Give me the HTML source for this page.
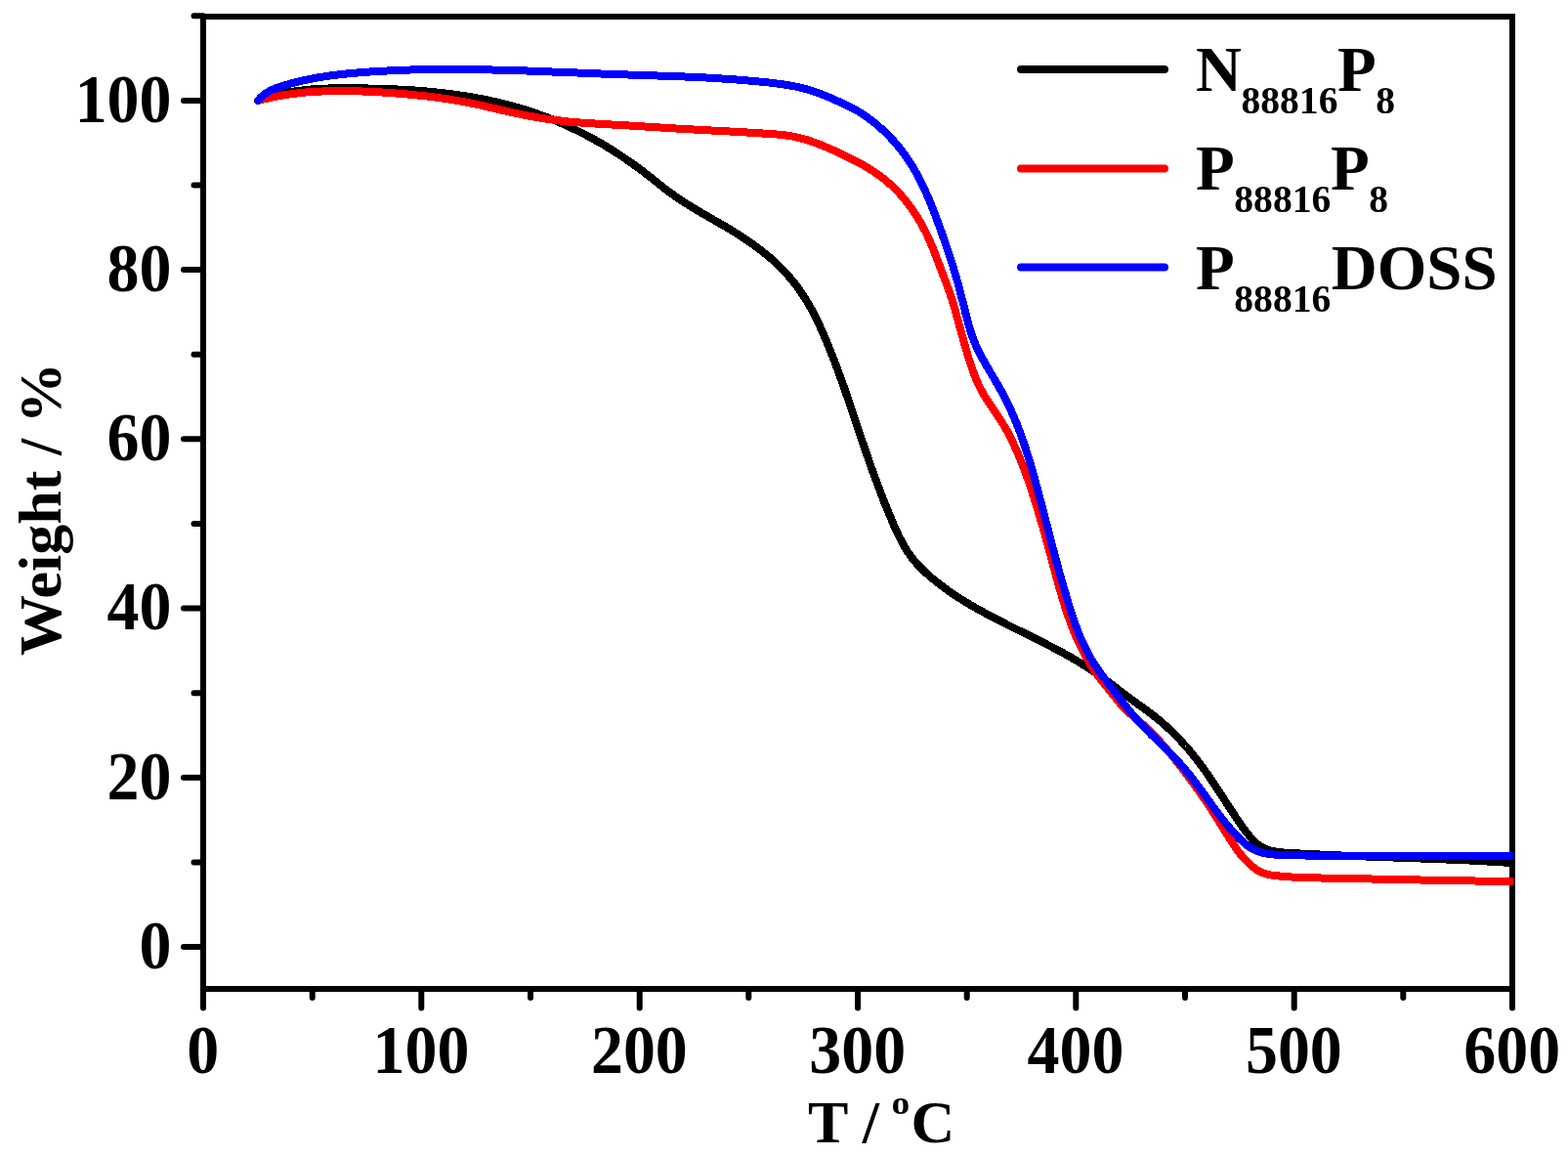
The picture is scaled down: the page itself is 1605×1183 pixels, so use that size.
<!DOCTYPE html><html><head><meta charset="utf-8"><style>html,body{margin:0;padding:0;background:#fff;overflow:hidden}svg{display:block}</style></head><body><svg width="1605" height="1183" viewBox="0 0 1605 1183"><defs><clipPath id="c"><rect x="205" y="14" width="1344" height="1001"/></clipPath></defs><rect x="0" y="0" width="1605" height="1183" fill="#fff"/>
<path d="M208.0,1012.0 V1031.5 M319.7,1012.0 V1021.0 M431.3,1012.0 V1031.5 M543.0,1012.0 V1021.0 M654.7,1012.0 V1031.5 M766.3,1012.0 V1021.0 M878.0,1012.0 V1031.5 M989.7,1012.0 V1021.0 M1101.3,1012.0 V1031.5 M1213.0,1012.0 V1021.0 M1324.7,1012.0 V1031.5 M1436.3,1012.0 V1021.0 M1548.0,1012.0 V1031.5 M208.0,969.0 H188.0 M208.0,882.4 H198.5 M208.0,795.8 H188.0 M208.0,709.2 H198.5 M208.0,622.6 H188.0 M208.0,536.0 H198.5 M208.0,449.3 H188.0 M208.0,362.7 H198.5 M208.0,276.1 H188.0 M208.0,189.5 H198.5 M208.0,102.9 H188.0 M208.0,16.3 H198.5" stroke="#000" stroke-width="6" stroke-linecap="round" fill="none"/>
<rect x="208" y="17" width="1340" height="995" fill="none" stroke="#000" stroke-width="6"/>
<path d="M264.0,103.0L265.9,102.3 267.8,101.6 269.7,101.0 271.6,100.4 273.6,99.8 275.5,99.2 277.4,98.7 279.3,98.1 281.3,97.6 283.2,97.1 285.1,96.7 287.1,96.2 289.0,95.8 291.0,95.4 292.9,95.0 294.9,94.6 296.8,94.3 298.8,94.0 300.7,93.6 302.7,93.4 304.7,93.1 306.6,92.8 308.6,92.6 310.6,92.3 312.5,92.1 314.5,91.9 316.5,91.7 318.5,91.5 320.4,91.4 322.4,91.2 324.4,91.1 326.4,91.0 328.4,90.8 330.4,90.7 332.4,90.7 334.3,90.6 336.3,90.5 338.3,90.4 340.3,90.4 342.3,90.3 344.3,90.3 346.3,90.3 348.3,90.2 350.3,90.2 352.3,90.2 354.3,90.2 356.3,90.2 358.3,90.2 360.3,90.2 362.3,90.3 364.3,90.3 366.3,90.3 368.3,90.3 370.3,90.3 372.3,90.4 374.4,90.4 376.4,90.5 378.4,90.5 380.4,90.5 382.4,90.6 384.4,90.6 386.4,90.7 388.4,90.8 390.4,90.8 392.4,90.9 394.4,91.0 396.4,91.0 398.4,91.1 400.4,91.2 402.4,91.3 404.4,91.4 406.4,91.5 408.5,91.6 410.5,91.7 412.5,91.8 414.5,91.9 416.5,92.0 418.5,92.1 420.5,92.3 422.5,92.4 424.5,92.5 426.5,92.7 428.5,92.8 430.5,93.0 432.5,93.2 434.5,93.3 436.5,93.5 438.5,93.7 440.5,93.9 442.4,94.1 444.4,94.3 446.4,94.5 448.4,94.7 450.4,94.9 452.4,95.1 454.4,95.3 456.4,95.6 458.4,95.8 460.3,96.1 462.3,96.3 464.3,96.6 466.3,96.9 468.3,97.1 470.2,97.4 472.2,97.7 474.2,98.0 476.1,98.3 478.1,98.6 480.1,98.9 482.1,99.3 484.0,99.6 486.0,100.0 487.9,100.3 489.9,100.7 491.9,101.0 493.8,101.4 495.8,101.8 497.7,102.2 499.7,102.6 501.6,103.0 503.6,103.4 505.5,103.9 507.4,104.3 509.4,104.7 511.3,105.2 513.3,105.7 515.2,106.1 517.1,106.6 519.0,107.1 521.0,107.6 522.9,108.1 524.8,108.6 526.7,109.2 528.6,109.7 530.6,110.3 532.5,110.8 534.4,111.4 536.3,112.0 538.2,112.6 540.1,113.2 542.0,113.8 543.9,114.4 545.8,115.0 547.7,115.7 549.5,116.3 551.4,117.0 553.3,117.7 555.2,118.3 557.0,119.0 558.9,119.7 560.8,120.5 562.6,121.2 564.5,121.9 566.4,122.7 568.2,123.4 570.1,124.2 571.9,125.0 573.7,125.8 575.6,126.6 577.4,127.4 579.2,128.2 581.1,129.0 582.9,129.9 584.7,130.7 586.5,131.6 588.3,132.4 590.1,133.3 591.9,134.2 593.7,135.1 595.5,136.0 597.3,136.9 599.1,137.8 600.9,138.8 602.6,139.7 604.4,140.7 606.1,141.6 607.9,142.6 609.6,143.6 611.4,144.5 613.1,145.5 614.9,146.5 616.6,147.5 618.3,148.5 620.0,149.6 621.7,150.6 623.4,151.6 625.1,152.7 626.8,153.7 628.5,154.8 630.2,155.9 631.9,156.9 633.5,158.0 635.2,159.1 636.8,160.2 638.5,161.3 640.1,162.4 641.8,163.6 643.4,164.7 645.0,165.8 646.7,167.0 648.3,168.1 649.9,169.3 651.5,170.5 653.1,171.7 654.7,172.8 656.3,174.0 657.9,175.3 659.5,176.5 661.1,177.7 662.6,178.9 664.2,180.2 665.8,181.4 667.3,182.6 668.9,183.9 670.5,185.1 672.1,186.4 673.6,187.6 675.2,188.9 676.8,190.1 678.4,191.4 679.9,192.6 681.5,193.8 683.1,195.0 684.7,196.2 686.3,197.4 688.0,198.6 689.6,199.7 691.2,200.9 692.8,202.0 694.5,203.2 696.2,204.3 697.8,205.4 699.5,206.5 701.2,207.5 702.9,208.6 704.5,209.7 706.2,210.7 707.9,211.8 709.6,212.8 711.3,213.8 713.1,214.8 714.8,215.9 716.5,216.9 718.2,217.9 719.9,218.9 721.7,219.9 723.4,220.9 725.1,221.9 726.9,222.9 728.6,223.9 730.3,224.9 732.1,225.9 733.8,226.9 735.5,227.9 737.2,228.9 739.0,229.9 740.7,230.9 742.4,231.9 744.1,232.9 745.9,233.9 747.6,235.0 749.3,236.0 751.0,237.0 752.7,238.1 754.4,239.1 756.1,240.2 757.8,241.3 759.5,242.4 761.1,243.5 762.8,244.6 764.5,245.7 766.1,246.8 767.8,248.0 769.4,249.1 771.0,250.3 772.7,251.5 774.3,252.7 775.9,253.9 777.5,255.1 779.1,256.3 780.6,257.5 782.2,258.8 783.8,260.1 785.3,261.3 786.8,262.6 788.4,263.9 789.9,265.2 791.3,266.6 792.8,267.9 794.3,269.3 795.7,270.6 797.2,272.0 798.6,273.4 800.0,274.8 801.4,276.3 802.8,277.7 804.1,279.1 805.5,280.6 806.8,282.1 808.1,283.6 809.4,285.1 810.7,286.6 811.9,288.2 813.2,289.7 814.4,291.3 815.6,292.9 816.8,294.5 817.9,296.1 819.1,297.7 820.2,299.3 821.3,301.0 822.4,302.7 823.4,304.3 824.5,306.0 825.5,307.7 826.6,309.5 827.6,311.2 828.5,312.9 829.5,314.7 830.5,316.4 831.4,318.2 832.4,320.0 833.3,321.7 834.2,323.5 835.1,325.3 836.0,327.1 836.8,328.9 837.7,330.7 838.6,332.5 839.4,334.4 840.2,336.2 841.1,338.0 841.9,339.9 842.7,341.7 843.5,343.5 844.3,345.4 845.1,347.2 845.9,349.1 846.6,350.9 847.4,352.7 848.2,354.6 848.9,356.5 849.7,358.3 850.4,360.2 851.2,362.0 851.9,363.9 852.6,365.7 853.4,367.6 854.1,369.5 854.8,371.3 855.5,373.2 856.2,375.1 856.9,376.9 857.6,378.8 858.3,380.7 859.0,382.6 859.7,384.4 860.3,386.3 861.0,388.2 861.7,390.1 862.4,392.0 863.0,393.8 863.7,395.7 864.3,397.6 865.0,399.5 865.7,401.4 866.3,403.3 867.0,405.1 867.6,407.0 868.2,408.9 868.9,410.8 869.5,412.7 870.2,414.6 870.8,416.5 871.5,418.4 872.1,420.2 872.7,422.1 873.4,424.0 874.0,425.9 874.6,427.8 875.3,429.7 875.9,431.6 876.5,433.5 877.2,435.4 877.8,437.3 878.4,439.1 879.1,441.0 879.7,442.9 880.3,444.8 881.0,446.7 881.6,448.6 882.2,450.5 882.9,452.4 883.5,454.2 884.2,456.1 884.8,458.0 885.5,459.9 886.1,461.8 886.8,463.7 887.4,465.6 888.1,467.4 888.7,469.3 889.4,471.2 890.0,473.1 890.7,475.0 891.4,476.8 892.0,478.7 892.7,480.6 893.4,482.5 894.1,484.3 894.7,486.2 895.4,488.1 896.1,490.0 896.8,491.8 897.5,493.7 898.2,495.6 898.9,497.4 899.6,499.3 900.3,501.2 901.0,503.0 901.7,504.9 902.4,506.8 903.2,508.6 903.9,510.5 904.6,512.4 905.3,514.2 906.1,516.1 906.8,517.9 907.6,519.8 908.3,521.7 909.1,523.5 909.8,525.4 910.6,527.2 911.4,529.1 912.2,530.9 912.9,532.8 913.7,534.6 914.5,536.5 915.3,538.3 916.1,540.2 917.0,542.0 917.8,543.8 918.6,545.6 919.5,547.4 920.4,549.3 921.3,551.0 922.2,552.8 923.1,554.6 924.1,556.3 925.0,558.1 926.0,559.8 927.1,561.5 928.1,563.2 929.2,564.9 930.3,566.5 931.5,568.1 932.6,569.7 933.8,571.3 935.1,572.8 936.3,574.4 937.6,575.9 939.0,577.4 940.3,578.8 941.7,580.3 943.1,581.7 944.5,583.1 945.9,584.5 947.4,585.9 948.9,587.2 950.4,588.6 951.9,589.9 953.4,591.2 954.9,592.5 956.5,593.7 958.0,595.0 959.6,596.2 961.2,597.5 962.8,598.7 964.4,599.9 966.0,601.1 967.6,602.3 969.2,603.4 970.8,604.6 972.5,605.7 974.1,606.8 975.8,608.0 977.4,609.1 979.1,610.2 980.8,611.3 982.5,612.3 984.1,613.4 985.8,614.5 987.5,615.5 989.2,616.5 990.9,617.6 992.6,618.6 994.4,619.6 996.1,620.6 997.8,621.6 999.5,622.6 1001.3,623.6 1003.0,624.5 1004.8,625.5 1006.5,626.5 1008.3,627.4 1010.0,628.4 1011.8,629.3 1013.6,630.3 1015.3,631.2 1017.1,632.1 1018.9,633.1 1020.6,634.0 1022.4,634.9 1024.2,635.8 1026.0,636.7 1027.8,637.6 1029.6,638.5 1031.3,639.4 1033.1,640.3 1034.9,641.2 1036.7,642.1 1038.5,643.0 1040.3,643.9 1042.1,644.8 1043.9,645.7 1045.7,646.5 1047.5,647.4 1049.3,648.3 1051.1,649.2 1052.9,650.1 1054.7,651.0 1056.5,651.9 1058.2,652.8 1060.0,653.7 1061.8,654.6 1063.6,655.5 1065.4,656.4 1067.2,657.3 1069.0,658.2 1070.8,659.1 1072.5,660.0 1074.3,660.9 1076.1,661.8 1077.9,662.7 1079.6,663.7 1081.4,664.6 1083.1,665.5 1084.9,666.5 1086.7,667.4 1088.4,668.4 1090.2,669.4 1091.9,670.3 1093.6,671.3 1095.4,672.3 1097.1,673.3 1098.8,674.3 1100.5,675.3 1102.3,676.3 1104.0,677.3 1105.7,678.3 1107.4,679.4 1109.1,680.4 1110.7,681.5 1112.4,682.5 1114.1,683.6 1115.8,684.7 1117.4,685.8 1119.1,686.9 1120.7,688.0 1122.4,689.2 1124.0,690.3 1125.6,691.5 1127.2,692.6 1128.9,693.8 1130.5,695.0 1132.1,696.1 1133.7,697.3 1135.3,698.5 1136.9,699.7 1138.5,700.9 1140.1,702.1 1141.7,703.3 1143.2,704.6 1144.8,705.8 1146.4,707.0 1148.0,708.2 1149.6,709.4 1151.2,710.6 1152.8,711.8 1154.4,713.0 1156.0,714.2 1157.6,715.4 1159.3,716.5 1160.9,717.7 1162.5,718.9 1164.1,720.1 1165.7,721.2 1167.3,722.4 1169.0,723.6 1170.6,724.8 1172.2,725.9 1173.8,727.1 1175.4,728.3 1177.0,729.5 1178.6,730.7 1180.2,731.9 1181.7,733.2 1183.3,734.4 1184.9,735.7 1186.4,736.9 1187.9,738.2 1189.5,739.5 1191.0,740.8 1192.5,742.1 1193.9,743.5 1195.4,744.8 1196.9,746.2 1198.3,747.6 1199.8,748.9 1201.2,750.3 1202.6,751.8 1204.0,753.2 1205.4,754.6 1206.8,756.1 1208.2,757.5 1209.5,759.0 1210.9,760.5 1212.2,762.0 1213.5,763.5 1214.9,765.0 1216.2,766.5 1217.5,768.0 1218.7,769.5 1220.0,771.1 1221.3,772.6 1222.5,774.2 1223.8,775.8 1225.0,777.3 1226.2,778.9 1227.5,780.5 1228.7,782.1 1229.8,783.7 1231.0,785.3 1232.2,786.9 1233.4,788.6 1234.5,790.2 1235.7,791.8 1236.8,793.5 1237.9,795.1 1239.1,796.7 1240.2,798.4 1241.3,800.0 1242.4,801.7 1243.5,803.4 1244.6,805.0 1245.7,806.7 1246.8,808.4 1247.9,810.0 1249.0,811.7 1250.0,813.4 1251.1,815.0 1252.2,816.7 1253.3,818.4 1254.4,820.1 1255.4,821.7 1256.5,823.4 1257.6,825.1 1258.7,826.8 1259.8,828.4 1260.8,830.1 1261.9,831.8 1263.0,833.4 1264.1,835.1 1265.2,836.8 1266.4,838.4 1267.5,840.1 1268.6,841.7 1269.7,843.4 1270.9,845.0 1272.1,846.7 1273.3,848.3 1274.5,849.9 1275.7,851.5 1277.0,853.1 1278.3,854.7 1279.6,856.3 1281.0,857.8 1282.4,859.3 1283.8,860.8 1285.3,862.2 1286.8,863.5 1288.4,864.8 1290.0,865.9 1291.6,866.9 1293.3,867.8 1295.1,868.6 1296.9,869.3 1298.7,869.9 1300.6,870.4 1302.4,870.9 1304.4,871.3 1306.3,871.6 1308.3,871.9 1310.2,872.2 1312.2,872.4 1314.2,872.6 1316.2,872.7 1318.3,872.8 1320.3,873.0 1322.3,873.1 1324.3,873.2 1326.4,873.3 1328.4,873.4 1330.4,873.5 1332.4,873.6 1334.4,873.7 1336.4,873.8 1338.4,873.9 1340.5,874.0 1342.5,874.1 1344.5,874.2 1346.5,874.3 1348.5,874.4 1350.5,874.5 1352.5,874.6 1354.5,874.7 1356.5,874.8 1358.5,874.8 1360.5,874.9 1362.5,875.0 1364.5,875.1 1366.4,875.2 1368.4,875.3 1370.4,875.4 1372.4,875.5 1374.4,875.5 1376.4,875.6 1378.4,875.7 1380.4,875.8 1382.4,875.9 1384.4,875.9 1386.4,876.0 1388.3,876.1 1390.3,876.2 1392.3,876.3 1394.3,876.3 1396.3,876.4 1398.3,876.5 1400.3,876.6 1402.3,876.6 1404.3,876.7 1406.2,876.8 1408.2,876.9 1410.2,876.9 1412.2,877.0 1414.2,877.1 1416.2,877.1 1418.2,877.2 1420.2,877.3 1422.2,877.4 1424.2,877.4 1426.2,877.5 1428.2,877.6 1430.2,877.6 1432.2,877.7 1434.2,877.8 1436.2,877.8 1438.2,877.9 1440.1,878.0 1442.1,878.0 1444.1,878.1 1446.1,878.2 1448.1,878.3 1450.1,878.3 1452.1,878.4 1454.1,878.5 1456.1,878.5 1458.1,878.6 1460.1,878.7 1462.1,878.8 1464.1,878.8 1466.1,878.9 1468.1,879.0 1470.1,879.1 1472.1,879.1 1474.1,879.2 1476.2,879.3 1478.2,879.4 1480.2,879.5 1482.2,879.5 1484.2,879.6 1486.2,879.7 1488.2,879.8 1490.2,879.9 1492.2,880.0 1494.2,880.1 1496.2,880.1 1498.2,880.2 1500.2,880.3 1502.2,880.4 1504.2,880.5 1506.2,880.6 1508.2,880.7 1510.1,880.8 1512.1,880.9 1514.1,881.0 1516.1,881.1 1518.1,881.2 1520.1,881.4 1522.1,881.5 1524.1,881.6 1526.1,881.7 1528.1,881.8 1530.1,881.9 1532.1,882.1 1534.1,882.2 1536.1,882.3 1538.1,882.4 1540.1,882.6 1542.1,882.7 1544.0,882.8 1546.0,883.0 1548.0,883.1 1550.0,883.3 1552.0,883.4" fill="none" stroke="#000" stroke-width="8" stroke-linejoin="round" stroke-linecap="round" shape-rendering="crispEdges" clip-path="url(#c)"/>
<path d="M264.0,103.0L265.9,102.5 267.9,102.0 269.8,101.5 271.8,101.0 273.8,100.6 275.7,100.2 277.7,99.7 279.6,99.3 281.6,98.9 283.5,98.6 285.5,98.2 287.5,97.9 289.4,97.5 291.4,97.2 293.4,96.9 295.4,96.6 297.3,96.3 299.3,96.0 301.3,95.8 303.3,95.6 305.2,95.3 307.2,95.1 309.2,94.9 311.2,94.7 313.2,94.5 315.1,94.3 317.1,94.2 319.1,94.0 321.1,93.9 323.1,93.8 325.1,93.7 327.1,93.5 329.1,93.5 331.1,93.4 333.0,93.3 335.0,93.2 337.0,93.2 339.0,93.1 341.0,93.1 343.0,93.0 345.0,93.0 347.0,93.0 349.0,93.0 351.0,93.0 353.0,93.0 355.0,93.0 357.0,93.1 359.0,93.1 361.0,93.1 363.0,93.2 365.0,93.3 367.0,93.3 369.0,93.4 371.0,93.5 373.0,93.5 375.0,93.6 377.0,93.7 379.0,93.8 381.0,93.9 383.0,94.0 385.0,94.1 387.0,94.3 389.0,94.4 391.0,94.5 393.0,94.7 395.0,94.8 397.0,94.9 399.0,95.1 401.0,95.2 403.0,95.4 405.0,95.5 407.0,95.7 409.0,95.8 411.0,96.0 413.0,96.2 415.0,96.4 416.9,96.5 418.9,96.7 420.9,96.9 422.9,97.1 424.9,97.3 426.9,97.5 428.9,97.7 430.9,97.9 432.9,98.1 434.8,98.3 436.8,98.5 438.8,98.8 440.8,99.0 442.8,99.3 444.8,99.5 446.7,99.8 448.7,100.0 450.7,100.3 452.7,100.6 454.6,100.8 456.6,101.1 458.6,101.4 460.6,101.7 462.5,102.1 464.5,102.4 466.5,102.7 468.4,103.0 470.4,103.4 472.4,103.7 474.3,104.1 476.3,104.5 478.2,104.9 480.2,105.2 482.1,105.6 484.1,106.1 486.1,106.5 488.0,106.9 490.0,107.3 491.9,107.7 493.9,108.2 495.8,108.6 497.8,109.1 499.7,109.5 501.7,110.0 503.6,110.4 505.6,110.9 507.5,111.3 509.4,111.8 511.4,112.2 513.3,112.7 515.3,113.1 517.2,113.5 519.2,114.0 521.1,114.4 523.1,114.9 525.1,115.3 527.0,115.7 529.0,116.1 530.9,116.5 532.9,116.9 534.8,117.3 536.8,117.7 538.8,118.1 540.7,118.5 542.7,118.8 544.6,119.2 546.6,119.6 548.6,119.9 550.6,120.2 552.5,120.6 554.5,120.9 556.5,121.2 558.4,121.5 560.4,121.8 562.4,122.1 564.4,122.4 566.3,122.6 568.3,122.9 570.3,123.2 572.3,123.4 574.3,123.6 576.2,123.9 578.2,124.1 580.2,124.3 582.2,124.5 584.2,124.7 586.2,124.9 588.2,125.0 590.1,125.2 592.1,125.4 594.1,125.5 596.1,125.7 598.1,125.8 600.1,125.9 602.1,126.1 604.1,126.2 606.1,126.3 608.1,126.4 610.1,126.6 612.1,126.7 614.1,126.8 616.1,126.9 618.1,127.0 620.1,127.1 622.1,127.2 624.1,127.3 626.1,127.5 628.1,127.6 630.0,127.7 632.0,127.8 634.0,127.9 636.0,128.0 638.0,128.2 640.0,128.3 642.0,128.4 644.0,128.5 646.0,128.6 648.0,128.8 650.0,128.9 652.0,129.0 654.0,129.1 656.0,129.3 658.0,129.4 660.0,129.5 662.0,129.6 664.0,129.8 666.0,129.9 668.0,130.0 670.0,130.1 672.0,130.3 674.0,130.4 675.9,130.5 677.9,130.6 679.9,130.8 681.9,130.9 683.9,131.0 685.9,131.1 687.9,131.3 689.9,131.4 691.9,131.5 693.9,131.6 695.9,131.7 697.9,131.8 699.9,132.0 701.9,132.1 703.8,132.2 705.8,132.3 707.8,132.4 709.8,132.5 711.8,132.6 713.8,132.7 715.8,132.9 717.8,133.0 719.8,133.1 721.8,133.2 723.7,133.3 725.7,133.4 727.7,133.5 729.7,133.6 731.7,133.7 733.7,133.8 735.7,133.9 737.7,134.0 739.7,134.1 741.7,134.2 743.7,134.3 745.7,134.4 747.6,134.6 749.6,134.7 751.6,134.8 753.6,134.9 755.6,135.0 757.6,135.1 759.6,135.2 761.6,135.3 763.6,135.4 765.6,135.6 767.6,135.7 769.6,135.8 771.6,135.9 773.6,136.0 775.6,136.2 777.6,136.3 779.6,136.4 781.6,136.6 783.6,136.7 785.6,136.8 787.6,137.0 789.7,137.1 791.7,137.2 793.7,137.4 795.7,137.6 797.7,137.8 799.7,138.0 801.7,138.2 803.6,138.4 805.6,138.7 807.6,139.0 809.6,139.3 811.5,139.6 813.5,140.0 815.4,140.4 817.3,140.9 819.3,141.4 821.2,141.9 823.1,142.4 825.0,142.9 826.9,143.5 828.8,144.1 830.6,144.7 832.5,145.4 834.4,146.1 836.2,146.7 838.1,147.5 840.0,148.2 841.8,148.9 843.7,149.7 845.5,150.4 847.3,151.2 849.2,152.0 851.0,152.8 852.8,153.7 854.7,154.5 856.5,155.3 858.3,156.2 860.1,157.0 861.9,157.9 863.8,158.8 865.6,159.6 867.4,160.5 869.2,161.4 871.0,162.3 872.8,163.2 874.6,164.1 876.4,165.1 878.1,166.0 879.9,167.0 881.7,167.9 883.4,168.9 885.2,169.9 886.9,170.9 888.6,171.9 890.3,173.0 892.0,174.1 893.7,175.1 895.3,176.2 897.0,177.4 898.6,178.5 900.2,179.7 901.8,180.9 903.4,182.1 905.0,183.3 906.5,184.6 908.0,185.8 909.5,187.1 911.0,188.4 912.5,189.8 913.9,191.1 915.3,192.5 916.7,193.9 918.1,195.3 919.5,196.8 920.9,198.2 922.2,199.7 923.5,201.2 924.8,202.7 926.1,204.2 927.3,205.8 928.6,207.3 929.8,208.9 931.0,210.5 932.2,212.1 933.3,213.7 934.5,215.4 935.6,217.0 936.7,218.7 937.8,220.3 938.9,222.0 939.9,223.7 940.9,225.4 942.0,227.2 942.9,228.9 943.9,230.6 944.9,232.4 945.8,234.2 946.7,235.9 947.6,237.7 948.5,239.5 949.4,241.3 950.2,243.1 951.0,245.0 951.8,246.8 952.6,248.6 953.4,250.4 954.2,252.3 954.9,254.1 955.7,256.0 956.4,257.9 957.1,259.7 957.8,261.6 958.5,263.4 959.3,265.3 960.0,267.2 960.7,269.0 961.4,270.9 962.1,272.8 962.8,274.6 963.5,276.5 964.2,278.4 964.9,280.2 965.6,282.1 966.3,284.0 967.1,285.8 967.8,287.7 968.5,289.6 969.2,291.4 969.8,293.3 970.5,295.2 971.2,297.1 971.9,298.9 972.5,300.8 973.1,302.7 973.8,304.6 974.4,306.5 975.0,308.4 975.6,310.3 976.1,312.2 976.7,314.2 977.3,316.1 977.8,318.0 978.4,319.9 978.9,321.9 979.4,323.8 980.0,325.7 980.5,327.6 981.0,329.6 981.6,331.5 982.1,333.4 982.6,335.3 983.1,337.3 983.7,339.2 984.2,341.1 984.7,343.0 985.3,345.0 985.8,346.9 986.3,348.8 986.9,350.7 987.4,352.6 988.0,354.6 988.6,356.5 989.1,358.4 989.7,360.3 990.3,362.2 990.8,364.1 991.4,366.1 992.0,368.0 992.6,369.9 993.2,371.8 993.9,373.7 994.5,375.6 995.1,377.5 995.8,379.4 996.5,381.2 997.2,383.1 997.9,385.0 998.7,386.8 999.4,388.7 1000.2,390.5 1001.0,392.3 1001.8,394.1 1002.7,395.9 1003.6,397.7 1004.5,399.5 1005.5,401.2 1006.4,402.9 1007.4,404.6 1008.5,406.3 1009.5,408.0 1010.6,409.7 1011.7,411.4 1012.8,413.0 1013.9,414.7 1015.0,416.4 1016.2,418.0 1017.3,419.7 1018.4,421.3 1019.5,423.0 1020.7,424.6 1021.8,426.3 1022.9,427.9 1024.0,429.6 1025.0,431.3 1026.1,433.0 1027.1,434.7 1028.1,436.4 1029.1,438.2 1030.1,439.9 1031.1,441.6 1032.0,443.4 1032.9,445.2 1033.8,446.9 1034.7,448.7 1035.6,450.5 1036.5,452.3 1037.4,454.1 1038.2,455.9 1039.0,457.7 1039.9,459.5 1040.7,461.3 1041.5,463.2 1042.3,465.0 1043.0,466.9 1043.8,468.7 1044.6,470.6 1045.3,472.4 1046.0,474.3 1046.8,476.1 1047.5,478.0 1048.2,479.9 1048.9,481.7 1049.6,483.6 1050.2,485.5 1050.9,487.4 1051.6,489.3 1052.3,491.2 1052.9,493.0 1053.6,494.9 1054.2,496.8 1054.8,498.7 1055.5,500.6 1056.1,502.5 1056.7,504.4 1057.3,506.3 1058.0,508.2 1058.6,510.1 1059.2,512.0 1059.8,513.9 1060.4,515.8 1061.0,517.7 1061.5,519.6 1062.1,521.5 1062.7,523.4 1063.3,525.3 1063.8,527.2 1064.4,529.1 1065.0,531.0 1065.5,533.0 1066.1,534.9 1066.6,536.8 1067.2,538.7 1067.7,540.6 1068.3,542.5 1068.8,544.5 1069.4,546.4 1069.9,548.3 1070.4,550.2 1071.0,552.1 1071.5,554.1 1072.0,556.0 1072.6,557.9 1073.1,559.8 1073.6,561.8 1074.1,563.7 1074.7,565.6 1075.2,567.6 1075.7,569.5 1076.2,571.4 1076.8,573.4 1077.3,575.3 1077.8,577.2 1078.3,579.2 1078.8,581.1 1079.4,583.0 1079.9,585.0 1080.4,586.9 1080.9,588.8 1081.4,590.8 1082.0,592.7 1082.5,594.6 1083.0,596.6 1083.6,598.5 1084.1,600.4 1084.6,602.4 1085.2,604.3 1085.7,606.2 1086.3,608.1 1086.9,610.1 1087.4,612.0 1088.0,613.9 1088.6,615.8 1089.2,617.7 1089.8,619.6 1090.4,621.6 1091.0,623.5 1091.6,625.4 1092.2,627.3 1092.9,629.1 1093.5,631.0 1094.2,632.9 1094.8,634.8 1095.5,636.7 1096.2,638.5 1096.9,640.4 1097.6,642.3 1098.4,644.1 1099.1,646.0 1099.9,647.8 1100.6,649.6 1101.4,651.5 1102.2,653.3 1103.0,655.1 1103.8,656.9 1104.7,658.7 1105.5,660.5 1106.4,662.3 1107.3,664.0 1108.2,665.8 1109.1,667.6 1110.0,669.3 1111.0,671.1 1112.0,672.8 1113.0,674.5 1114.0,676.3 1115.0,678.0 1116.0,679.7 1117.1,681.4 1118.1,683.0 1119.2,684.7 1120.3,686.4 1121.5,688.0 1122.6,689.6 1123.8,691.3 1125.0,692.9 1126.2,694.5 1127.4,696.1 1128.6,697.7 1129.9,699.3 1131.1,700.8 1132.4,702.4 1133.7,704.0 1134.9,705.5 1136.2,707.1 1137.5,708.6 1138.7,710.2 1140.0,711.8 1141.2,713.3 1142.5,714.9 1143.7,716.4 1144.9,718.0 1146.2,719.5 1147.4,721.1 1148.7,722.6 1150.0,724.0 1151.4,725.5 1152.8,726.8 1154.3,728.2 1155.8,729.5 1157.3,730.8 1158.8,732.0 1160.4,733.3 1161.9,734.6 1163.4,735.8 1164.9,737.1 1166.4,738.4 1167.9,739.7 1169.4,741.1 1170.9,742.4 1172.3,743.7 1173.8,745.1 1175.2,746.5 1176.6,747.8 1178.1,749.2 1179.5,750.6 1180.9,752.1 1182.2,753.5 1183.6,754.9 1185.0,756.4 1186.3,757.8 1187.7,759.3 1189.0,760.8 1190.3,762.3 1191.7,763.8 1193.0,765.3 1194.3,766.8 1195.6,768.3 1196.9,769.8 1198.2,771.3 1199.4,772.9 1200.7,774.4 1202.0,776.0 1203.2,777.5 1204.4,779.1 1205.7,780.7 1206.9,782.2 1208.2,783.8 1209.4,785.4 1210.6,787.0 1211.8,788.6 1213.0,790.2 1214.2,791.8 1215.4,793.4 1216.6,795.0 1217.8,796.6 1219.0,798.2 1220.2,799.8 1221.3,801.5 1222.5,803.1 1223.7,804.7 1224.8,806.3 1226.0,808.0 1227.1,809.6 1228.3,811.2 1229.4,812.9 1230.6,814.5 1231.7,816.1 1232.8,817.8 1234.0,819.4 1235.1,821.1 1236.2,822.8 1237.3,824.4 1238.4,826.1 1239.5,827.7 1240.6,829.4 1241.7,831.1 1242.8,832.8 1243.8,834.4 1244.9,836.1 1246.0,837.8 1247.1,839.5 1248.1,841.2 1249.2,842.9 1250.2,844.6 1251.3,846.2 1252.3,847.9 1253.3,849.6 1254.4,851.3 1255.4,853.0 1256.5,854.7 1257.5,856.4 1258.6,858.1 1259.6,859.8 1260.7,861.5 1261.8,863.1 1262.9,864.8 1264.0,866.4 1265.2,868.0 1266.3,869.6 1267.5,871.2 1268.7,872.8 1269.9,874.4 1271.2,875.9 1272.5,877.4 1273.8,878.9 1275.2,880.4 1276.6,881.8 1278.0,883.2 1279.5,884.6 1281.0,886.0 1282.6,887.3 1284.2,888.5 1285.8,889.7 1287.5,890.7 1289.2,891.7 1291.0,892.6 1292.8,893.4 1294.7,894.0 1296.6,894.6 1298.5,895.0 1300.4,895.4 1302.4,895.7 1304.4,895.9 1306.3,896.2 1308.3,896.4 1310.3,896.6 1312.3,896.8 1314.3,896.9 1316.3,897.1 1318.3,897.2 1320.3,897.4 1322.2,897.5 1324.2,897.6 1326.2,897.7 1328.2,897.8 1330.2,897.9 1332.2,898.0 1334.2,898.0 1336.2,898.1 1338.2,898.2 1340.2,898.2 1342.2,898.3 1344.2,898.3 1346.2,898.4 1348.2,898.4 1350.2,898.4 1352.2,898.5 1354.2,898.5 1356.2,898.5 1358.2,898.6 1360.2,898.6 1362.2,898.7 1364.2,898.7 1366.2,898.7 1368.2,898.8 1370.2,898.8 1372.2,898.8 1374.2,898.9 1376.2,898.9 1378.2,899.0 1380.2,899.0 1382.2,899.0 1384.2,899.1 1386.2,899.1 1388.2,899.2 1390.2,899.2 1392.2,899.2 1394.2,899.3 1396.2,899.3 1398.2,899.4 1400.2,899.4 1402.2,899.4 1404.2,899.5 1406.2,899.5 1408.2,899.6 1410.2,899.6 1412.2,899.6 1414.2,899.7 1416.2,899.7 1418.2,899.8 1420.2,899.8 1422.2,899.8 1424.2,899.9 1426.1,899.9 1428.1,900.0 1430.1,900.0 1432.1,900.0 1434.1,900.1 1436.1,900.1 1438.1,900.2 1440.1,900.2 1442.1,900.2 1444.1,900.3 1446.1,900.3 1448.1,900.4 1450.1,900.4 1452.1,900.4 1454.1,900.5 1456.1,900.5 1458.1,900.6 1460.1,900.6 1462.1,900.6 1464.1,900.7 1466.1,900.7 1468.1,900.8 1470.1,900.8 1472.1,900.8 1474.1,900.9 1476.1,900.9 1478.1,900.9 1480.1,901.0 1482.1,901.0 1484.1,901.0 1486.1,901.1 1488.1,901.1 1490.1,901.1 1492.1,901.2 1494.1,901.2 1496.0,901.2 1498.0,901.3 1500.0,901.3 1502.0,901.3 1504.0,901.4 1506.0,901.4 1508.0,901.4 1510.0,901.5 1512.0,901.5 1514.0,901.5 1516.0,901.5 1518.0,901.6 1520.0,901.6 1522.0,901.6 1524.0,901.6 1526.0,901.7 1528.0,901.7 1530.0,901.7 1532.0,901.7 1534.0,901.7 1536.0,901.8 1538.0,901.8 1540.0,901.8 1542.0,901.8 1544.0,901.8 1546.0,901.9 1548.0,901.9 1550.0,901.9 1552.0,901.9" fill="none" stroke="#f00" stroke-width="8" stroke-linejoin="round" stroke-linecap="round" shape-rendering="crispEdges" clip-path="url(#c)"/>
<path d="M264.0,103.0L265.3,101.4 266.7,99.9 268.1,98.6 269.6,97.3 271.2,96.1 272.8,95.0 274.5,94.0 276.2,93.1 278.0,92.2 279.7,91.4 281.6,90.7 283.4,89.9 285.3,89.3 287.2,88.6 289.0,88.0 291.0,87.4 292.9,86.9 294.8,86.3 296.7,85.8 298.6,85.2 300.5,84.7 302.5,84.2 304.4,83.8 306.3,83.3 308.3,82.8 310.2,82.4 312.2,82.0 314.1,81.6 316.1,81.2 318.0,80.8 320.0,80.4 321.9,80.0 323.9,79.7 325.9,79.3 327.9,79.0 329.8,78.7 331.8,78.4 333.8,78.1 335.8,77.8 337.8,77.5 339.7,77.2 341.7,77.0 343.7,76.7 345.7,76.5 347.7,76.3 349.7,76.0 351.7,75.8 353.7,75.6 355.7,75.4 357.7,75.2 359.7,75.0 361.7,74.8 363.7,74.6 365.7,74.5 367.7,74.3 369.7,74.2 371.7,74.0 373.7,73.8 375.7,73.7 377.7,73.6 379.7,73.4 381.7,73.3 383.7,73.2 385.7,73.0 387.7,72.9 389.7,72.8 391.7,72.7 393.7,72.6 395.7,72.5 397.7,72.4 399.7,72.3 401.7,72.2 403.7,72.1 405.7,72.0 407.7,71.9 409.7,71.8 411.7,71.8 413.7,71.7 415.7,71.6 417.7,71.6 419.7,71.5 421.7,71.4 423.7,71.4 425.7,71.3 427.7,71.3 429.7,71.2 431.7,71.2 433.6,71.2 435.6,71.1 437.6,71.1 439.6,71.1 441.6,71.0 443.6,71.0 445.6,71.0 447.6,71.0 449.6,71.0 451.6,70.9 453.6,70.9 455.6,70.9 457.6,70.9 459.6,70.9 461.6,70.9 463.6,70.9 465.6,70.9 467.6,70.9 469.6,70.9 471.6,71.0 473.6,71.0 475.6,71.0 477.6,71.0 479.5,71.0 481.5,71.1 483.5,71.1 485.5,71.1 487.5,71.1 489.5,71.2 491.5,71.2 493.5,71.2 495.5,71.3 497.5,71.3 499.5,71.4 501.5,71.4 503.5,71.5 505.5,71.5 507.5,71.5 509.5,71.6 511.5,71.6 513.5,71.7 515.4,71.8 517.4,71.8 519.4,71.9 521.4,71.9 523.4,72.0 525.4,72.1 527.4,72.1 529.4,72.2 531.4,72.2 533.4,72.3 535.4,72.4 537.4,72.4 539.4,72.5 541.4,72.6 543.4,72.7 545.4,72.7 547.4,72.8 549.4,72.9 551.3,72.9 553.3,73.0 555.3,73.1 557.3,73.2 559.3,73.2 561.3,73.3 563.3,73.4 565.3,73.5 567.3,73.6 569.3,73.6 571.3,73.7 573.3,73.8 575.3,73.9 577.3,74.0 579.3,74.0 581.3,74.1 583.3,74.2 585.3,74.3 587.3,74.4 589.3,74.4 591.3,74.5 593.3,74.6 595.3,74.7 597.3,74.8 599.2,74.8 601.2,74.9 603.2,75.0 605.2,75.1 607.2,75.2 609.2,75.2 611.2,75.3 613.2,75.4 615.2,75.5 617.2,75.5 619.2,75.6 621.2,75.7 623.2,75.8 625.2,75.8 627.2,75.9 629.2,76.0 631.2,76.1 633.2,76.1 635.2,76.2 637.2,76.3 639.2,76.3 641.2,76.4 643.2,76.5 645.2,76.5 647.2,76.6 649.2,76.7 651.2,76.7 653.2,76.8 655.2,76.9 657.2,76.9 659.2,77.0 661.2,77.1 663.2,77.1 665.2,77.2 667.2,77.3 669.2,77.3 671.2,77.4 673.2,77.5 675.2,77.5 677.2,77.6 679.2,77.7 681.2,77.7 683.2,77.8 685.2,77.9 687.2,78.0 689.2,78.0 691.2,78.1 693.2,78.2 695.2,78.3 697.2,78.3 699.2,78.4 701.2,78.5 703.2,78.6 705.2,78.7 707.2,78.8 709.2,78.9 711.2,78.9 713.2,79.0 715.2,79.1 717.2,79.2 719.2,79.3 721.2,79.4 723.2,79.5 725.2,79.6 727.2,79.8 729.2,79.9 731.2,80.0 733.2,80.1 735.2,80.2 737.2,80.3 739.2,80.5 741.2,80.6 743.2,80.7 745.2,80.9 747.1,81.0 749.1,81.1 751.1,81.3 753.1,81.4 755.1,81.6 757.1,81.7 759.1,81.9 761.1,82.1 763.1,82.2 765.1,82.4 767.0,82.6 769.0,82.7 771.0,82.9 773.0,83.1 775.0,83.3 777.0,83.5 779.0,83.7 780.9,83.9 782.9,84.1 784.9,84.3 786.9,84.5 788.9,84.8 790.9,85.0 792.8,85.2 794.8,85.5 796.8,85.7 798.8,86.0 800.7,86.3 802.7,86.5 804.7,86.8 806.6,87.2 808.6,87.5 810.6,87.8 812.5,88.2 814.5,88.6 816.4,89.0 818.3,89.4 820.3,89.9 822.2,90.4 824.1,90.9 826.0,91.4 827.9,92.0 829.9,92.5 831.8,93.2 833.6,93.8 835.5,94.5 837.4,95.2 839.3,95.9 841.2,96.6 843.0,97.3 844.9,98.1 846.8,98.9 848.6,99.6 850.5,100.4 852.3,101.2 854.2,102.0 856.0,102.8 857.9,103.6 859.7,104.4 861.6,105.2 863.4,106.1 865.2,106.9 867.0,107.8 868.8,108.7 870.6,109.6 872.4,110.5 874.1,111.5 875.8,112.5 877.6,113.5 879.3,114.5 881.0,115.6 882.7,116.6 884.3,117.7 886.0,118.9 887.6,120.0 889.2,121.2 890.8,122.3 892.4,123.5 894.0,124.8 895.6,126.0 897.1,127.3 898.6,128.6 900.1,129.9 901.6,131.2 903.1,132.5 904.6,133.9 906.0,135.2 907.4,136.6 908.8,138.0 910.2,139.5 911.6,140.9 913.0,142.4 914.3,143.8 915.6,145.3 916.9,146.8 918.2,148.4 919.5,149.9 920.8,151.4 922.0,153.0 923.2,154.6 924.4,156.2 925.6,157.8 926.8,159.4 927.9,161.0 929.1,162.7 930.2,164.3 931.3,166.0 932.3,167.7 933.4,169.4 934.4,171.1 935.5,172.8 936.5,174.5 937.4,176.2 938.4,178.0 939.4,179.7 940.3,181.5 941.2,183.2 942.1,185.0 943.0,186.8 943.9,188.6 944.8,190.4 945.6,192.2 946.5,194.0 947.3,195.8 948.1,197.7 948.9,199.5 949.7,201.3 950.5,203.2 951.3,205.0 952.1,206.9 952.8,208.7 953.6,210.6 954.3,212.5 955.0,214.3 955.8,216.2 956.5,218.1 957.2,219.9 957.9,221.8 958.6,223.7 959.3,225.6 960.0,227.5 960.7,229.3 961.4,231.2 962.0,233.1 962.7,235.0 963.4,236.9 964.1,238.7 964.7,240.6 965.4,242.5 966.1,244.4 966.7,246.3 967.4,248.2 968.0,250.0 968.7,251.9 969.3,253.8 969.9,255.7 970.6,257.6 971.2,259.5 971.8,261.4 972.5,263.2 973.1,265.1 973.7,267.0 974.3,268.9 974.9,270.8 975.5,272.7 976.1,274.6 976.6,276.5 977.2,278.4 977.8,280.3 978.3,282.3 978.9,284.2 979.4,286.1 980.0,288.0 980.5,289.9 981.1,291.9 981.6,293.8 982.1,295.7 982.6,297.7 983.1,299.6 983.6,301.5 984.1,303.5 984.6,305.4 985.1,307.4 985.6,309.3 986.1,311.2 986.6,313.2 987.1,315.1 987.6,317.1 988.0,319.0 988.5,321.0 989.0,322.9 989.5,324.9 990.0,326.8 990.5,328.8 991.1,330.7 991.6,332.6 992.1,334.5 992.7,336.4 993.3,338.4 993.9,340.3 994.5,342.1 995.2,344.0 995.9,345.9 996.6,347.7 997.3,349.6 998.1,351.4 998.8,353.2 999.7,355.1 1000.5,356.9 1001.4,358.6 1002.2,360.4 1003.1,362.2 1004.1,364.0 1005.0,365.7 1005.9,367.5 1006.9,369.2 1007.9,371.0 1008.9,372.7 1009.9,374.4 1010.9,376.1 1011.9,377.9 1012.9,379.6 1013.9,381.3 1015.0,383.0 1016.0,384.7 1017.0,386.5 1018.0,388.2 1019.0,389.9 1020.0,391.6 1021.1,393.4 1022.1,395.1 1023.0,396.8 1024.0,398.6 1025.0,400.3 1025.9,402.0 1026.9,403.8 1027.8,405.6 1028.7,407.3 1029.6,409.1 1030.5,410.9 1031.4,412.7 1032.3,414.5 1033.1,416.3 1033.9,418.1 1034.8,419.9 1035.6,421.7 1036.4,423.5 1037.2,425.3 1038.0,427.2 1038.7,429.0 1039.5,430.8 1040.3,432.7 1041.0,434.5 1041.7,436.4 1042.4,438.2 1043.2,440.1 1043.9,442.0 1044.6,443.8 1045.2,445.7 1045.9,447.6 1046.6,449.5 1047.2,451.4 1047.9,453.2 1048.5,455.1 1049.2,457.0 1049.8,458.9 1050.4,460.8 1051.0,462.7 1051.6,464.6 1052.2,466.5 1052.8,468.5 1053.4,470.4 1054.0,472.3 1054.6,474.2 1055.2,476.1 1055.7,478.0 1056.3,480.0 1056.8,481.9 1057.4,483.8 1057.9,485.7 1058.5,487.7 1059.0,489.6 1059.6,491.5 1060.1,493.5 1060.6,495.4 1061.1,497.3 1061.7,499.3 1062.2,501.2 1062.7,503.1 1063.2,505.1 1063.7,507.0 1064.2,509.0 1064.7,510.9 1065.2,512.8 1065.8,514.8 1066.3,516.7 1066.8,518.6 1067.3,520.6 1067.8,522.5 1068.3,524.4 1068.8,526.4 1069.3,528.3 1069.8,530.2 1070.3,532.2 1070.8,534.1 1071.3,536.0 1071.8,538.0 1072.3,539.9 1072.8,541.8 1073.3,543.8 1073.8,545.7 1074.3,547.6 1074.8,549.6 1075.3,551.5 1075.8,553.4 1076.3,555.3 1076.8,557.3 1077.3,559.2 1077.8,561.1 1078.3,563.1 1078.8,565.0 1079.3,566.9 1079.8,568.8 1080.3,570.8 1080.8,572.7 1081.4,574.6 1081.9,576.5 1082.4,578.5 1082.9,580.4 1083.5,582.3 1084.0,584.2 1084.5,586.2 1085.0,588.1 1085.6,590.0 1086.1,591.9 1086.7,593.8 1087.2,595.8 1087.8,597.7 1088.3,599.6 1088.9,601.5 1089.4,603.5 1090.0,605.4 1090.6,607.3 1091.1,609.2 1091.7,611.1 1092.3,613.0 1092.9,615.0 1093.4,616.9 1094.0,618.8 1094.6,620.7 1095.2,622.6 1095.8,624.5 1096.4,626.4 1097.1,628.4 1097.7,630.3 1098.3,632.2 1099.0,634.1 1099.6,635.9 1100.3,637.8 1101.0,639.7 1101.7,641.6 1102.4,643.5 1103.1,645.3 1103.8,647.2 1104.6,649.0 1105.3,650.9 1106.1,652.7 1106.9,654.6 1107.7,656.4 1108.5,658.2 1109.4,660.0 1110.2,661.8 1111.1,663.6 1112.0,665.4 1112.9,667.1 1113.8,668.9 1114.8,670.6 1115.8,672.4 1116.8,674.1 1117.8,675.8 1118.8,677.5 1119.9,679.2 1121.0,680.8 1122.1,682.5 1123.2,684.1 1124.3,685.8 1125.5,687.4 1126.7,689.0 1127.8,690.7 1129.0,692.3 1130.2,693.9 1131.4,695.5 1132.7,697.1 1133.9,698.7 1135.1,700.3 1136.3,701.9 1137.5,703.4 1138.8,705.0 1140.0,706.6 1141.2,708.2 1142.4,709.8 1143.6,711.4 1144.9,713.0 1146.1,714.6 1147.3,716.2 1148.5,717.7 1149.8,719.3 1151.0,720.9 1152.2,722.5 1153.5,724.0 1154.7,725.6 1156.0,727.1 1157.3,728.7 1158.5,730.2 1159.8,731.7 1161.1,733.3 1162.4,734.8 1163.7,736.3 1165.0,737.7 1166.4,739.2 1167.7,740.7 1169.1,742.2 1170.5,743.6 1171.8,745.0 1173.2,746.5 1174.6,747.9 1176.0,749.3 1177.4,750.7 1178.8,752.2 1180.3,753.6 1181.7,755.0 1183.1,756.4 1184.5,757.8 1186.0,759.2 1187.4,760.6 1188.8,762.0 1190.2,763.4 1191.7,764.8 1193.1,766.2 1194.5,767.6 1195.9,769.0 1197.3,770.4 1198.7,771.8 1200.1,773.3 1201.5,774.7 1202.9,776.1 1204.3,777.6 1205.6,779.0 1207.0,780.5 1208.3,782.0 1209.6,783.5 1210.9,785.0 1212.2,786.5 1213.5,788.0 1214.8,789.5 1216.1,791.0 1217.3,792.6 1218.6,794.2 1219.8,795.7 1221.0,797.3 1222.2,798.9 1223.5,800.5 1224.7,802.1 1225.9,803.7 1227.0,805.3 1228.2,806.9 1229.4,808.5 1230.6,810.1 1231.8,811.7 1232.9,813.3 1234.1,815.0 1235.3,816.6 1236.4,818.2 1237.6,819.8 1238.8,821.5 1240.0,823.1 1241.1,824.7 1242.3,826.3 1243.5,827.9 1244.7,829.5 1245.9,831.1 1247.1,832.7 1248.3,834.3 1249.5,835.9 1250.7,837.5 1252.0,839.1 1253.2,840.6 1254.5,842.2 1255.7,843.7 1257.0,845.3 1258.3,846.8 1259.6,848.3 1260.9,849.8 1262.3,851.3 1263.6,852.8 1265.0,854.3 1266.4,855.7 1267.8,857.2 1269.2,858.6 1270.6,860.0 1272.1,861.3 1273.6,862.7 1275.1,863.9 1276.6,865.1 1278.2,866.3 1279.9,867.3 1281.5,868.3 1283.2,869.2 1285.0,870.1 1286.7,870.8 1288.5,871.5 1290.4,872.2 1292.2,872.7 1294.1,873.1 1296.0,873.5 1298.0,873.9 1299.9,874.1 1301.9,874.4 1303.9,874.5 1305.9,874.7 1307.9,874.8 1309.9,874.9 1311.9,874.9 1314.0,875.0 1316.0,875.0 1318.0,875.1 1320.0,875.1 1322.0,875.2 1324.1,875.2 1326.1,875.3 1328.1,875.3 1330.1,875.4 1332.1,875.4 1334.1,875.4 1336.2,875.5 1338.2,875.5 1340.2,875.5 1342.2,875.6 1344.2,875.6 1346.2,875.6 1348.2,875.7 1350.2,875.7 1352.3,875.7 1354.3,875.7 1356.3,875.8 1358.3,875.8 1360.3,875.8 1362.3,875.8 1364.3,875.9 1366.3,875.9 1368.3,875.9 1370.3,875.9 1372.3,875.9 1374.3,875.9 1376.3,876.0 1378.3,876.0 1380.3,876.0 1382.3,876.0 1384.3,876.0 1386.3,876.0 1388.3,876.0 1390.3,876.0 1392.3,876.0 1394.3,876.0 1396.3,876.0 1398.3,876.1 1400.3,876.1 1402.3,876.1 1404.3,876.1 1406.3,876.1 1408.3,876.1 1410.2,876.1 1412.2,876.1 1414.2,876.1 1416.2,876.1 1418.2,876.1 1420.2,876.1 1422.2,876.1 1424.2,876.1 1426.2,876.1 1428.2,876.1 1430.2,876.1 1432.2,876.0 1434.2,876.0 1436.1,876.0 1438.1,876.0 1440.1,876.0 1442.1,876.0 1444.1,876.0 1446.1,876.0 1448.1,876.0 1450.1,876.0 1452.1,876.0 1454.1,876.0 1456.1,876.0 1458.0,876.0 1460.0,876.0 1462.0,876.0 1464.0,876.0 1466.0,876.0 1468.0,875.9 1470.0,875.9 1472.0,875.9 1474.0,875.9 1476.0,875.9 1478.0,875.9 1480.0,875.9 1482.0,875.9 1483.9,875.9 1485.9,875.9 1487.9,875.9 1489.9,875.9 1491.9,875.9 1493.9,875.9 1495.9,875.9 1497.9,875.9 1499.9,875.9 1501.9,875.9 1503.9,875.9 1505.9,875.9 1507.9,875.9 1509.9,875.9 1511.9,875.9 1513.9,875.9 1515.9,875.9 1517.9,875.9 1519.9,875.9 1521.9,875.9 1523.9,875.9 1525.9,875.9 1527.9,875.9 1529.9,875.9 1531.9,875.9 1533.9,875.9 1535.9,875.9 1537.9,875.9 1539.9,875.9 1541.9,875.9 1544.0,875.9 1546.0,876.0 1548.0,876.0 1550.0,876.0 1552.0,876.0" fill="none" stroke="#00f" stroke-width="8" stroke-linejoin="round" stroke-linecap="round" shape-rendering="crispEdges" clip-path="url(#c)"/>
<text transform="translate(207.7,1097.5) scale(0.955,1)" font-size="69" text-anchor="middle" font-family="'Liberation Serif', 'Times New Roman', serif" font-weight="bold">0</text>
<text transform="translate(431.0,1097.5) scale(0.955,1)" font-size="69" text-anchor="middle" font-family="'Liberation Serif', 'Times New Roman', serif" font-weight="bold">100</text>
<text transform="translate(654.4,1097.5) scale(0.955,1)" font-size="69" text-anchor="middle" font-family="'Liberation Serif', 'Times New Roman', serif" font-weight="bold">200</text>
<text transform="translate(877.7,1097.5) scale(0.955,1)" font-size="69" text-anchor="middle" font-family="'Liberation Serif', 'Times New Roman', serif" font-weight="bold">300</text>
<text transform="translate(1101.0,1097.5) scale(0.955,1)" font-size="69" text-anchor="middle" font-family="'Liberation Serif', 'Times New Roman', serif" font-weight="bold">400</text>
<text transform="translate(1324.4,1097.5) scale(0.955,1)" font-size="69" text-anchor="middle" font-family="'Liberation Serif', 'Times New Roman', serif" font-weight="bold">500</text>
<text transform="translate(1547.7,1097.5) scale(0.955,1)" font-size="69" text-anchor="middle" font-family="'Liberation Serif', 'Times New Roman', serif" font-weight="bold">600</text>
<text transform="translate(175.5,990.8) scale(0.955,1)" font-size="69" text-anchor="end" font-family="'Liberation Serif', 'Times New Roman', serif" font-weight="bold">0</text>
<text transform="translate(175.5,817.6) scale(0.955,1)" font-size="69" text-anchor="end" font-family="'Liberation Serif', 'Times New Roman', serif" font-weight="bold">20</text>
<text transform="translate(175.5,644.4) scale(0.955,1)" font-size="69" text-anchor="end" font-family="'Liberation Serif', 'Times New Roman', serif" font-weight="bold">40</text>
<text transform="translate(175.5,471.1) scale(0.955,1)" font-size="69" text-anchor="end" font-family="'Liberation Serif', 'Times New Roman', serif" font-weight="bold">60</text>
<text transform="translate(175.5,297.9) scale(0.955,1)" font-size="69" text-anchor="end" font-family="'Liberation Serif', 'Times New Roman', serif" font-weight="bold">80</text>
<text transform="translate(175.5,124.7) scale(0.955,1)" font-size="69" text-anchor="end" font-family="'Liberation Serif', 'Times New Roman', serif" font-weight="bold">100</text>
<text x="827" y="1168.5" font-size="62" font-family="'Liberation Serif', 'Times New Roman', serif" font-weight="bold">T / </text>
<text transform="translate(912.6,1140) scale(1.12,1)" font-size="33.5" font-family="'Liberation Serif', 'Times New Roman', serif" font-weight="bold">o</text>
<text x="932.5" y="1168.5" font-size="62" font-family="'Liberation Serif', 'Times New Roman', serif" font-weight="bold">C</text>
<text transform="translate(62,671) rotate(-90)" x="0" y="0" font-size="62" font-family="'Liberation Serif', 'Times New Roman', serif" font-weight="bold">Weight / %</text>
<path d="M1045,70.9 H1192" stroke="#000" stroke-width="8" stroke-linecap="round"/>
<text x="1224.0" y="93.0" font-size="65" font-family="'Liberation Serif', 'Times New Roman', serif" font-weight="bold">N</text>
<text x="1270.5" y="116.0" font-size="39.6" font-family="'Liberation Serif', 'Times New Roman', serif" font-weight="bold">88816</text>
<text x="1369.0" y="93.0" font-size="65" font-family="'Liberation Serif', 'Times New Roman', serif" font-weight="bold">P</text>
<text x="1408.3" y="116.0" font-size="39.6" font-family="'Liberation Serif', 'Times New Roman', serif" font-weight="bold">8</text>
<path d="M1045,172.4 H1192" stroke="#f00" stroke-width="8" stroke-linecap="round"/>
<text x="1224.0" y="193.7" font-size="65" font-family="'Liberation Serif', 'Times New Roman', serif" font-weight="bold">P</text>
<text x="1263.3" y="217.0" font-size="39.6" font-family="'Liberation Serif', 'Times New Roman', serif" font-weight="bold">88816</text>
<text x="1362.0" y="193.7" font-size="65" font-family="'Liberation Serif', 'Times New Roman', serif" font-weight="bold">P</text>
<text x="1401.3" y="217.0" font-size="39.6" font-family="'Liberation Serif', 'Times New Roman', serif" font-weight="bold">8</text>
<path d="M1045,273.6 H1192" stroke="#00f" stroke-width="8" stroke-linecap="round"/>
<text x="1224.0" y="296.0" font-size="65" font-family="'Liberation Serif', 'Times New Roman', serif" font-weight="bold">P</text>
<text x="1263.3" y="319.0" font-size="39.6" font-family="'Liberation Serif', 'Times New Roman', serif" font-weight="bold">88816</text>
<text x="1362.8" y="296.0" font-size="65" font-family="'Liberation Serif', 'Times New Roman', serif" font-weight="bold">DOSS</text></svg></body></html>
